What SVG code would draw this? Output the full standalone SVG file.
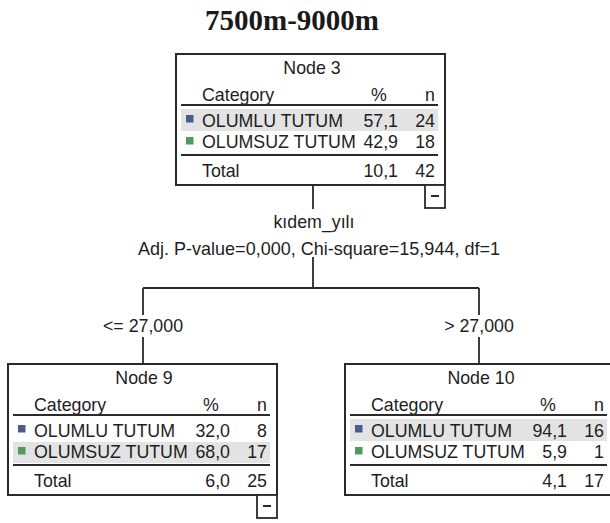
<svg xmlns="http://www.w3.org/2000/svg" width="610" height="523" viewBox="0 0 610 523">
<style>
.bg{fill:#ffffff}
.box{fill:#ffffff;stroke:#2a2a2a;stroke-width:2}
.t{font-family:"Liberation Sans",Arial,sans-serif;font-size:17.8px;fill:#1e1e1e}
.m{text-anchor:middle}
.e{text-anchor:end}
.title{font-family:"Liberation Serif","Times New Roman",serif;font-size:29px;font-weight:bold;fill:#1a1a1a;text-anchor:middle}
.hl{fill:#e3e3e3}
.rule{stroke:#2a2a2a;stroke-width:2}
.blue{fill:#4b5a8f}
.green{fill:#4f9a5e}
.conn{stroke:#2a2a2a;stroke-width:1.8;fill:none}
.cbox{fill:#ffffff;stroke:#2a2a2a;stroke-width:1.8}
</style>
<rect class="bg" x="0" y="0" width="610" height="523"/>
<text class="title" x="292" y="30">7500m-9000m</text>

<g id="connectors">
  <line class="conn" x1="313" y1="185" x2="313" y2="209"/>
  <line class="conn" x1="313" y1="257" x2="313" y2="288"/>
  <line class="conn" x1="143" y1="288" x2="479" y2="288"/>
  <line class="conn" x1="143" y1="288" x2="143" y2="315"/>
  <line class="conn" x1="143" y1="337" x2="143" y2="364"/>
  <line class="conn" x1="479" y1="288" x2="479" y2="315"/>
  <line class="conn" x1="479" y1="337" x2="479" y2="364"/>
  <text class="t m" x="314" y="228">kıdem_yılı</text>
  <text class="t m" x="319" y="255" textLength="362" lengthAdjust="spacingAndGlyphs">Adj. P-value=0,000, Chi-square=15,944, df=1</text>
  <text class="t m" x="143" y="332">&lt;= 27,000</text>
  <text class="t m" x="479" y="332">&gt; 27,000</text>
</g>

<g id="node3" transform="translate(176,54)">
  <rect class="box" x="0" y="0" width="269" height="131"/>
  <rect class="hl" x="5" y="55" width="257" height="22"/>
  <text class="t m" x="136" y="20">Node 3</text>
  <text class="t" x="26" y="47">Category</text>
  <text class="t m" x="203" y="47">%</text>
  <text class="t e" x="259" y="47">n</text>
  <line class="rule" x1="5" y1="51" x2="262" y2="51"/>
  <rect class="blue" x="10" y="61" width="7.5" height="7.5"/>
  <text class="t" x="26" y="73">OLUMLU TUTUM</text>
  <text class="t e" x="222" y="73">57,1</text>
  <text class="t e" x="259" y="73">24</text>
  <rect class="green" x="10" y="83" width="7.5" height="7.5"/>
  <text class="t" x="26" y="94">OLUMSUZ TUTUM</text>
  <text class="t e" x="222" y="94">42,9</text>
  <text class="t e" x="259" y="94">18</text>
  <line class="rule" x1="5" y1="101" x2="262" y2="101"/>
  <text class="t" x="26" y="123">Total</text>
  <text class="t e" x="222" y="123">10,1</text>
  <text class="t e" x="259" y="123">42</text>
  <rect class="cbox" x="249" y="131" width="20" height="23"/>
  <line class="rule" x1="255" y1="142" x2="263" y2="142"/>
</g>

<g id="node9" transform="translate(8,364)">
  <rect class="box" x="0" y="0" width="269" height="131"/>
  <rect class="hl" x="5" y="78" width="257" height="21"/>
  <text class="t m" x="136" y="20">Node 9</text>
  <text class="t" x="26" y="47">Category</text>
  <text class="t m" x="203" y="47">%</text>
  <text class="t e" x="259" y="47">n</text>
  <line class="rule" x1="5" y1="51" x2="262" y2="51"/>
  <rect class="blue" x="10" y="61" width="7.5" height="7.5"/>
  <text class="t" x="26" y="73">OLUMLU TUTUM</text>
  <text class="t e" x="222" y="73">32,0</text>
  <text class="t e" x="259" y="73">8</text>
  <rect class="green" x="10" y="83" width="7.5" height="7.5"/>
  <text class="t" x="26" y="94">OLUMSUZ TUTUM</text>
  <text class="t e" x="222" y="94">68,0</text>
  <text class="t e" x="259" y="94">17</text>
  <line class="rule" x1="5" y1="101" x2="262" y2="101"/>
  <text class="t" x="26" y="123">Total</text>
  <text class="t e" x="222" y="123">6,0</text>
  <text class="t e" x="259" y="123">25</text>
  <rect class="cbox" x="249" y="131" width="20" height="23"/>
  <line class="rule" x1="255" y1="142" x2="263" y2="142"/>
</g>

<g id="node10" transform="translate(345,364)">
  <rect class="box" x="0" y="0" width="269" height="131"/>
  <rect class="hl" x="5" y="55" width="257" height="22"/>
  <text class="t m" x="136" y="20">Node 10</text>
  <text class="t" x="26" y="47">Category</text>
  <text class="t m" x="203" y="47">%</text>
  <text class="t e" x="259" y="47">n</text>
  <line class="rule" x1="5" y1="51" x2="262" y2="51"/>
  <rect class="blue" x="10" y="61" width="7.5" height="7.5"/>
  <text class="t" x="26" y="73">OLUMLU TUTUM</text>
  <text class="t e" x="222" y="73">94,1</text>
  <text class="t e" x="259" y="73">16</text>
  <rect class="green" x="10" y="83" width="7.5" height="7.5"/>
  <text class="t" x="26" y="94">OLUMSUZ TUTUM</text>
  <text class="t e" x="222" y="94">5,9</text>
  <text class="t e" x="259" y="94">1</text>
  <line class="rule" x1="5" y1="101" x2="262" y2="101"/>
  <text class="t" x="26" y="123">Total</text>
  <text class="t e" x="222" y="123">4,1</text>
  <text class="t e" x="259" y="123">17</text>
</g>
</svg>
